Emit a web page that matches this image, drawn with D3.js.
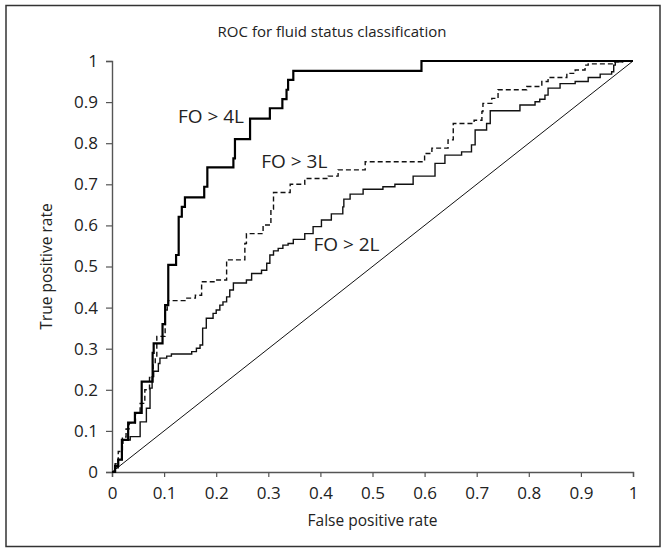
<!DOCTYPE html>
<html>
<head>
<meta charset="utf-8">
<script src="https://cdn.jsdelivr.net/npm/d3@7/dist/d3.min.js"></script>
<style>
  html, body { margin: 0; padding: 0; background: #fff; }
  svg { display: block; }
  text { font-family: "Open Sans", "Noto Sans", sans-serif; fill: #222; }
</style>
</head>
<body>
<svg id="chart" width="664" height="550"></svg>
<script>
// ---- data ----
const title = "ROC for fluid status classification";
const xLabel = "False positive rate";
const yLabel = "True positive rate";
const tickValues = [0, 0.1, 0.2, 0.3, 0.4, 0.5, 0.6, 0.7, 0.8, 0.9, 1];
const tickLabels = ["0", "0.1", "0.2", "0.3", "0.4", "0.5", "0.6", "0.7", "0.8", "0.9", "1"];

// step corners: at fpr[i] the tpr rises to tpr[i]
const fo4_fpr = [0, 0.006, 0.012, 0.019, 0.031, 0.044, 0.057, 0.078, 0.080, 0.097, 0.102, 0.108, 0.123, 0.128, 0.134, 0.140, 0.177, 0.183, 0.233, 0.236, 0.265, 0.303, 0.327, 0.335, 0.338, 0.348, 0.594, 1];
const fo4_tpr = [0, 0.015, 0.030, 0.078, 0.120, 0.144, 0.220, 0.290, 0.313, 0.360, 0.406, 0.504, 0.528, 0.621, 0.645, 0.668, 0.694, 0.741, 0.763, 0.810, 0.860, 0.885, 0.907, 0.930, 0.954, 0.976, 1, 1];

const fo3_fpr = [0, 0.006, 0.012, 0.020, 0.027, 0.033, 0.045, 0.054, 0.063, 0.072, 0.079, 0.083, 0.086, 0.102, 0.106, 0.108, 0.140, 0.160, 0.172, 0.198, 0.220, 0.255, 0.258, 0.290, 0.305, 0.310, 0.342, 0.370, 0.415, 0.434, 0.486, 0.600, 0.614, 0.645, 0.655, 0.695, 0.710, 0.712, 0.729, 0.741, 0.796, 0.825, 0.837, 0.873, 0.889, 0.908, 0.914, 0.965, 0.980, 1];
const fo3_tpr = [0, 0.020, 0.050, 0.085, 0.105, 0.120, 0.143, 0.167, 0.200, 0.230, 0.264, 0.280, 0.330, 0.394, 0.406, 0.417, 0.423, 0.430, 0.463, 0.467, 0.516, 0.556, 0.580, 0.601, 0.640, 0.680, 0.700, 0.714, 0.720, 0.735, 0.755, 0.775, 0.788, 0.808, 0.848, 0.856, 0.877, 0.897, 0.909, 0.930, 0.938, 0.950, 0.960, 0.970, 0.978, 0.990, 0.993, 0.998, 1, 1];

const fo2_fpr = [0, 0.006, 0.012, 0.019, 0.021, 0.035, 0.054, 0.066, 0.073, 0.077, 0.080, 0.089, 0.092, 0.105, 0.114, 0.153, 0.162, 0.169, 0.174, 0.181, 0.194, 0.200, 0.207, 0.213, 0.220, 0.226, 0.233, 0.258, 0.268, 0.287, 0.297, 0.303, 0.310, 0.319, 0.328, 0.338, 0.348, 0.370, 0.386, 0.402, 0.421, 0.443, 0.445, 0.457, 0.482, 0.520, 0.543, 0.578, 0.620, 0.639, 0.671, 0.690, 0.697, 0.719, 0.726, 0.783, 0.812, 0.821, 0.831, 0.837, 0.860, 0.889, 0.914, 0.937, 0.959, 0.963, 0.966, 0.980, 1];
const fo2_tpr = [0, 0.010, 0.030, 0.070, 0.078, 0.086, 0.122, 0.155, 0.204, 0.232, 0.245, 0.264, 0.277, 0.282, 0.287, 0.293, 0.301, 0.309, 0.350, 0.374, 0.386, 0.394, 0.406, 0.414, 0.426, 0.443, 0.460, 0.467, 0.483, 0.491, 0.508, 0.528, 0.538, 0.544, 0.552, 0.556, 0.566, 0.580, 0.597, 0.613, 0.628, 0.645, 0.664, 0.676, 0.688, 0.694, 0.700, 0.720, 0.751, 0.771, 0.779, 0.796, 0.832, 0.848, 0.879, 0.893, 0.901, 0.907, 0.917, 0.934, 0.945, 0.950, 0.960, 0.968, 0.974, 0.990, 0.998, 1, 1];

const chance_fpr = [0, 1];
const chance_tpr = [0, 1];

const curveNames = ["FO > 4L", "FO > 3L", "FO > 2L"];
const labelFpr = [0.19, 0.35, 0.45];
const labelTpr = [0.862, 0.752, 0.55];

// ---- layout ----
const W = 664, H = 550;
const x0 = 112, x1 = 633, yBottom = 472, yTop = 61;
const svg = d3.select("#chart");

svg.append("rect").attr("x", 6).attr("y", 5.5).attr("width", 654).attr("height", 541)
  .attr("fill", "none").attr("stroke", "#333").attr("stroke-width", 1.5);

const x = d3.scaleLinear().domain([0, 1]).range([x0, x1]);
const y = d3.scaleLinear().domain([0, 1]).range([yBottom, yTop]);

const fmt = (d) => tickLabels[tickValues.indexOf(d)];

const gx = svg.append("g").attr("transform", `translate(0,${yBottom})`)
  .call(d3.axisBottom(x).tickValues(tickValues).tickFormat(fmt).tickSize(5).tickSizeOuter(5).tickPadding(10));
const gy = svg.append("g").attr("transform", `translate(${x0},0)`)
  .call(d3.axisLeft(y).tickValues(tickValues).tickFormat(fmt).tickSize(6).tickSizeOuter(6).tickPadding(8));
[gx, gy].forEach(g => {
  g.select(".domain").attr("stroke", "#555").attr("stroke-width", 1.4);
  g.selectAll(".tick line").attr("stroke", "#555").attr("stroke-width", 1.2);
  g.selectAll(".tick text").attr("font-size", 17).attr("font-family", "Open Sans").attr("fill", "#222");
});

// chance line
const lineFn = d3.line().x(d => x(d[0])).y(d => y(d[1]));
svg.append("path").datum(d3.zip(chance_fpr, chance_tpr)).attr("d", lineFn)
  .attr("fill", "none").attr("stroke", "#111").attr("stroke-width", 1);

const stepFn = d3.line().x(d => x(d[0])).y(d => y(d[1])).curve(d3.curveStepAfter);
svg.append("path").datum(d3.zip(fo2_fpr, fo2_tpr)).attr("d", stepFn)
  .attr("fill", "none").attr("stroke", "#111").attr("stroke-width", 1.4);
svg.append("path").datum(d3.zip(fo3_fpr, fo3_tpr)).attr("d", stepFn)
  .attr("fill", "none").attr("stroke", "#111").attr("stroke-width", 1.4).attr("stroke-dasharray", "5,3");
svg.append("path").datum(d3.zip(fo4_fpr, fo4_tpr)).attr("d", stepFn)
  .attr("fill", "none").attr("stroke", "#000").attr("stroke-width", 2.2);

// curve labels
svg.selectAll("text.lbl").data(curveNames).enter().append("text").attr("class", "lbl")
  .attr("x", (d, i) => x(labelFpr[i])).attr("y", (d, i) => y(labelTpr[i]))
  .attr("text-anchor", "middle").attr("dominant-baseline", "middle")
  .attr("font-size", 19).text(d => d);

// titles
svg.append("text").attr("x", W / 2).attr("y", 37).attr("text-anchor", "middle")
  .attr("font-size", 15).text(title);
svg.append("text").attr("x", (x0 + x1) / 2).attr("y", 526).attr("text-anchor", "middle")
  .attr("font-size", 15.5).text(xLabel);
svg.append("text").attr("transform", `translate(52,${(yTop + yBottom) / 2}) rotate(-90)`)
  .attr("text-anchor", "middle").attr("font-size", 15.5).text(yLabel);
</script>
</body>
</html>
